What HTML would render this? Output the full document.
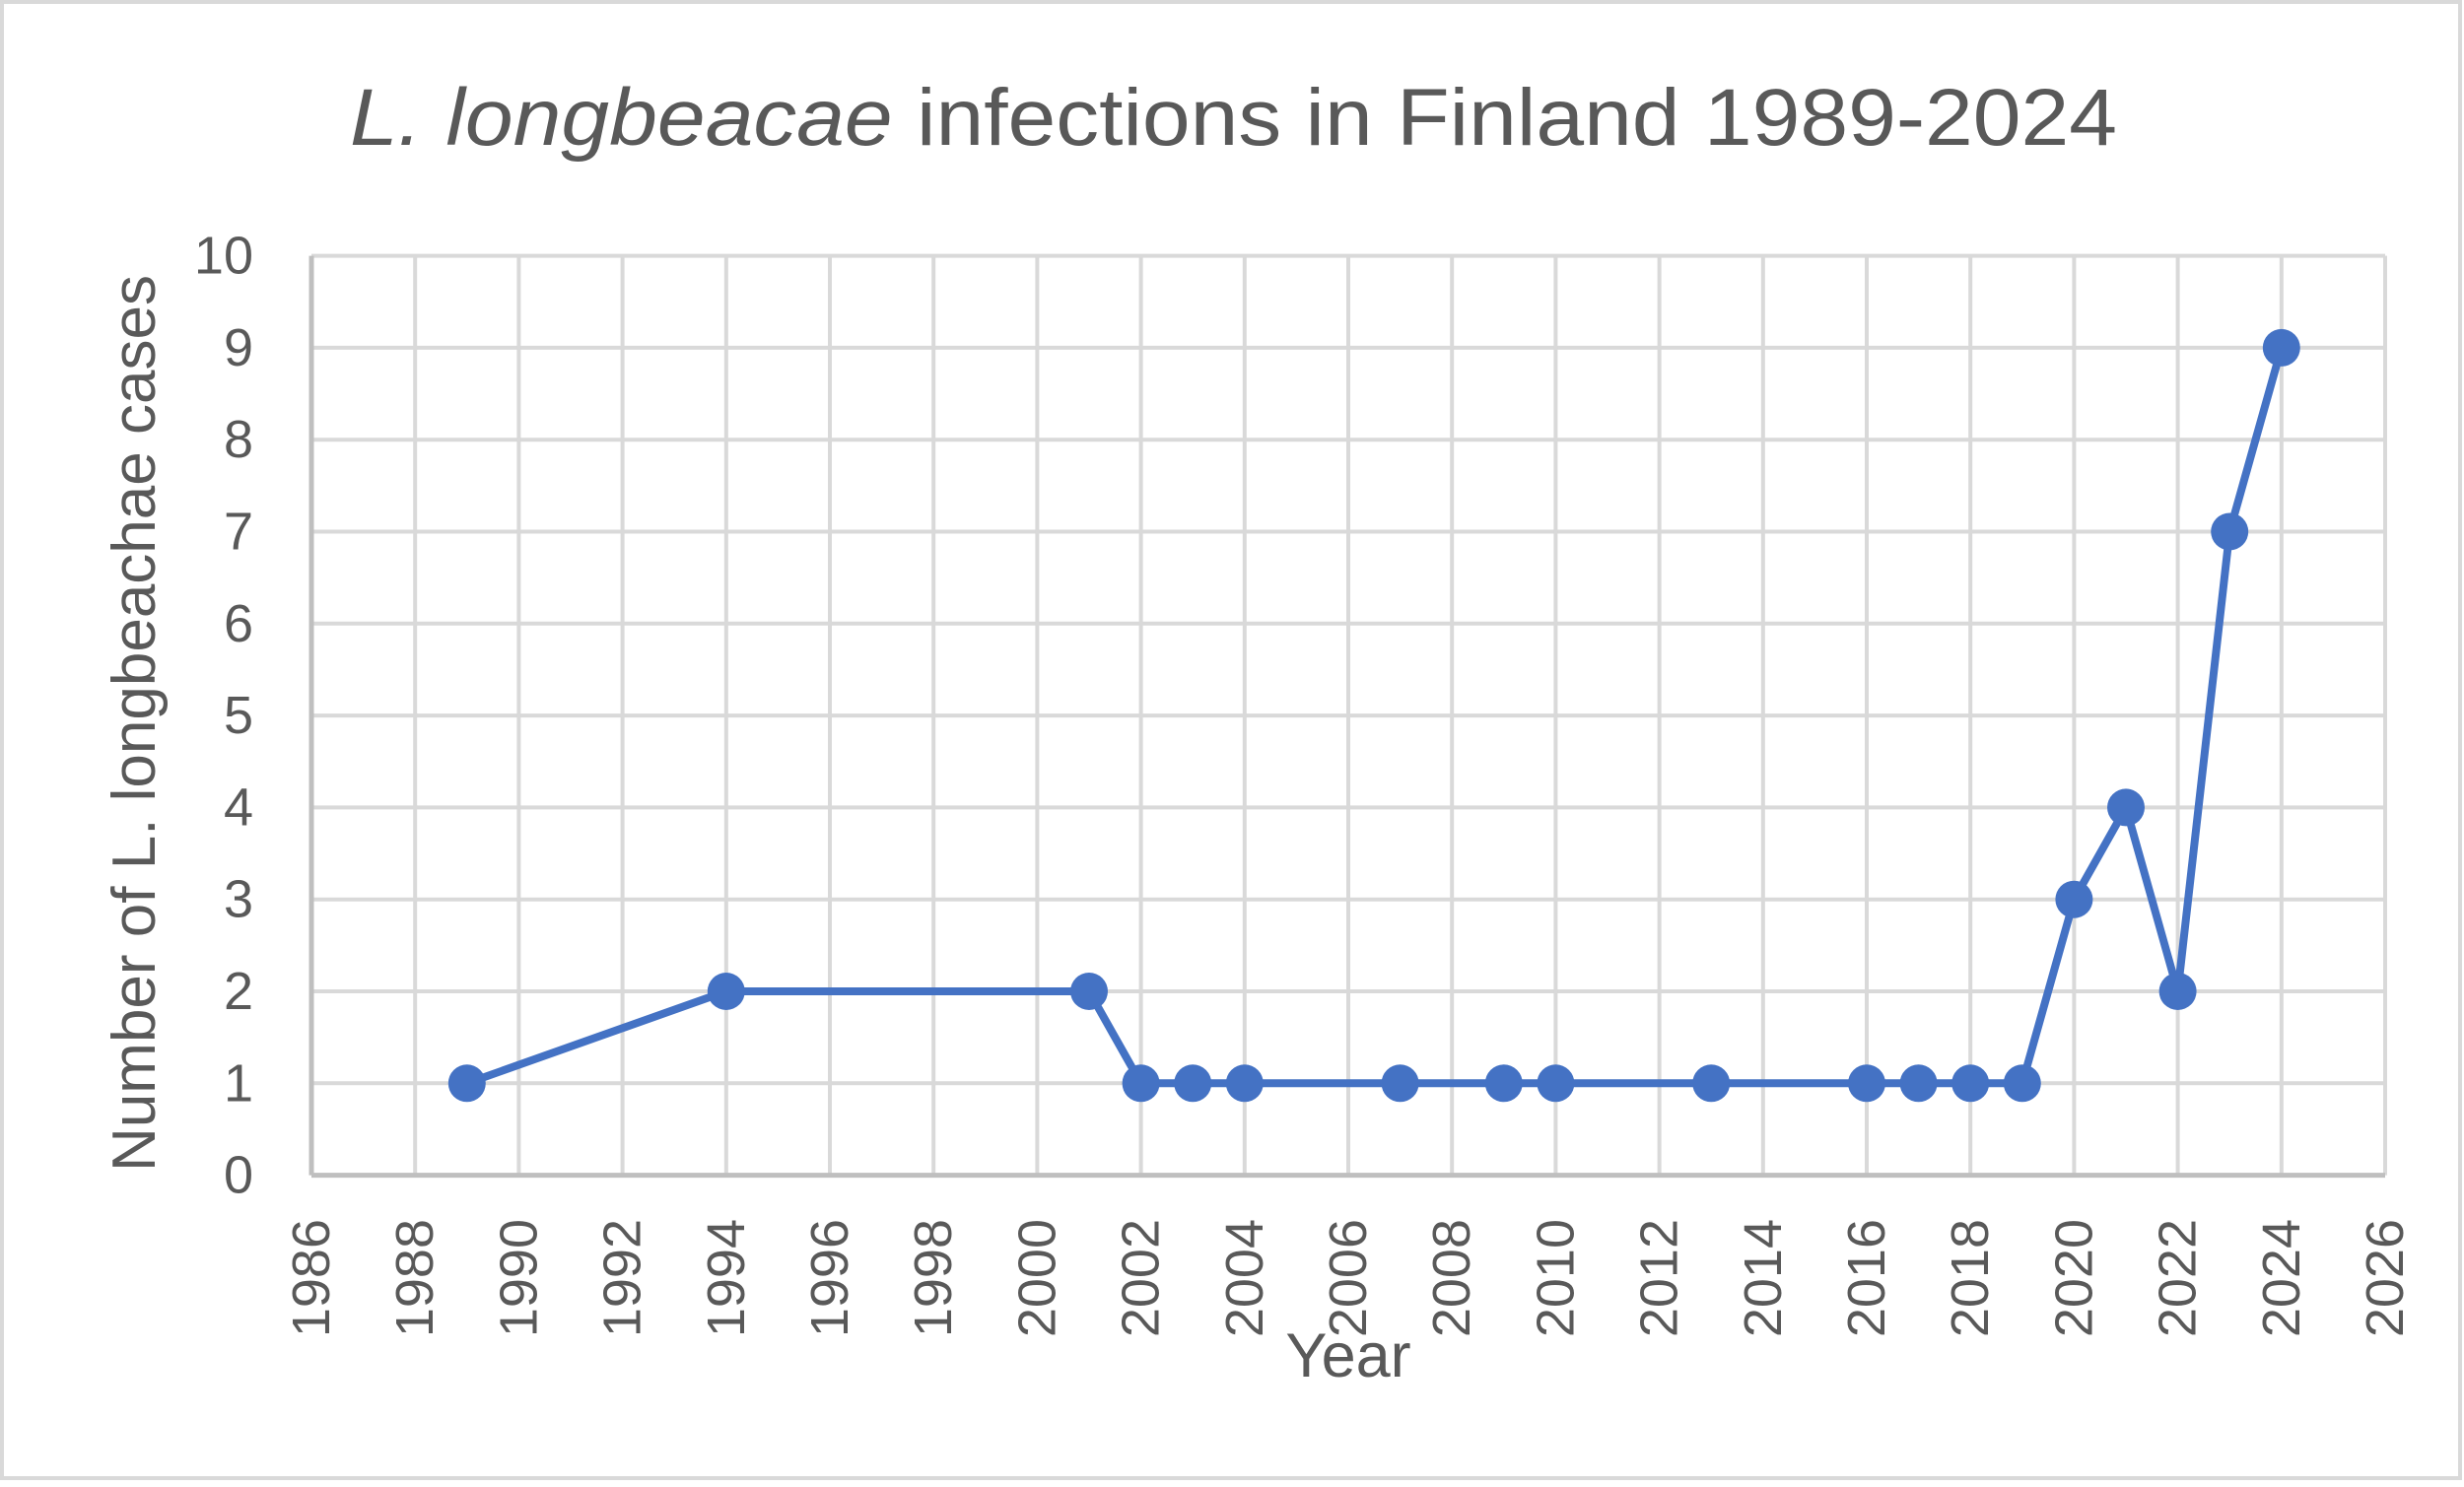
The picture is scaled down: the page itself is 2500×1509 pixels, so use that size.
<!DOCTYPE html>
<html><head><meta charset="utf-8"><style>html,body{margin:0;padding:0;background:#fff}</style></head>
<body>
<svg width="2500" height="1504" xmlns="http://www.w3.org/2000/svg" font-family="Liberation Sans, sans-serif" fill="#595959">
<rect x="2" y="2" width="2494" height="1498" fill="#fff" stroke="#d9d9d9" stroke-width="4"/>
<text x="355" y="147" font-size="82" textLength="1793" lengthAdjust="spacingAndGlyphs"><tspan font-style="italic">L. longbeacae</tspan> infections in Finland 1989-2024</text>
<g stroke="#d9d9d9" stroke-width="4">
<line x1="316" y1="259.6" x2="2420" y2="259.6"/><line x1="316" y1="352.9" x2="2420" y2="352.9"/><line x1="316" y1="446.2" x2="2420" y2="446.2"/><line x1="316" y1="539.5" x2="2420" y2="539.5"/><line x1="316" y1="632.8" x2="2420" y2="632.8"/><line x1="316" y1="726.1" x2="2420" y2="726.1"/><line x1="316" y1="819.4" x2="2420" y2="819.4"/><line x1="316" y1="912.7" x2="2420" y2="912.7"/><line x1="316" y1="1006" x2="2420" y2="1006"/><line x1="316" y1="1099.3" x2="2420" y2="1099.3"/>
<line x1="421.2" y1="259.6" x2="421.2" y2="1192.6"/><line x1="526.4" y1="259.6" x2="526.4" y2="1192.6"/><line x1="631.6" y1="259.6" x2="631.6" y2="1192.6"/><line x1="736.8" y1="259.6" x2="736.8" y2="1192.6"/><line x1="842" y1="259.6" x2="842" y2="1192.6"/><line x1="947.2" y1="259.6" x2="947.2" y2="1192.6"/><line x1="1052.4" y1="259.6" x2="1052.4" y2="1192.6"/><line x1="1157.6" y1="259.6" x2="1157.6" y2="1192.6"/><line x1="1262.8" y1="259.6" x2="1262.8" y2="1192.6"/><line x1="1368" y1="259.6" x2="1368" y2="1192.6"/><line x1="1473.2" y1="259.6" x2="1473.2" y2="1192.6"/><line x1="1578.4" y1="259.6" x2="1578.4" y2="1192.6"/><line x1="1683.6" y1="259.6" x2="1683.6" y2="1192.6"/><line x1="1788.8" y1="259.6" x2="1788.8" y2="1192.6"/><line x1="1894" y1="259.6" x2="1894" y2="1192.6"/><line x1="1999.2" y1="259.6" x2="1999.2" y2="1192.6"/><line x1="2104.4" y1="259.6" x2="2104.4" y2="1192.6"/><line x1="2209.6" y1="259.6" x2="2209.6" y2="1192.6"/><line x1="2420" y1="259.6" x2="2420" y2="1192.6"/><line x1="2314.8" y1="259.6" x2="2314.8" y2="1192.6"/>
</g>
<g stroke="#bfbfbf" stroke-width="5"><line x1="316" y1="259.6" x2="316" y2="1192.6"/><line x1="316" y1="1192.6" x2="2420" y2="1192.6"/></g>
<g font-size="54" text-anchor="end" dominant-baseline="central">
<text x="257" y="259.6">10</text><text x="257" y="352.9">9</text><text x="257" y="446.2">8</text><text x="257" y="539.5">7</text><text x="257" y="632.8">6</text><text x="257" y="726.1">5</text><text x="257" y="819.4">4</text><text x="257" y="912.7">3</text><text x="257" y="1006">2</text><text x="257" y="1099.3">1</text><text x="257" y="1192.6">0</text>
</g>
<g font-size="54" text-anchor="end" dominant-baseline="central">
<text transform="translate(316,1237) rotate(-90)">1986</text><text transform="translate(421.2,1237) rotate(-90)">1988</text><text transform="translate(526.4,1237) rotate(-90)">1990</text><text transform="translate(631.6,1237) rotate(-90)">1992</text><text transform="translate(736.8,1237) rotate(-90)">1994</text><text transform="translate(842,1237) rotate(-90)">1996</text><text transform="translate(947.2,1237) rotate(-90)">1998</text><text transform="translate(1052.4,1237) rotate(-90)">2000</text><text transform="translate(1157.6,1237) rotate(-90)">2002</text><text transform="translate(1262.8,1237) rotate(-90)">2004</text><text transform="translate(1368,1237) rotate(-90)">2006</text><text transform="translate(1473.2,1237) rotate(-90)">2008</text><text transform="translate(1578.4,1237) rotate(-90)">2010</text><text transform="translate(1683.6,1237) rotate(-90)">2012</text><text transform="translate(1788.8,1237) rotate(-90)">2014</text><text transform="translate(1894,1237) rotate(-90)">2016</text><text transform="translate(1999.2,1237) rotate(-90)">2018</text><text transform="translate(2104.4,1237) rotate(-90)">2020</text><text transform="translate(2209.6,1237) rotate(-90)">2022</text><text transform="translate(2314.8,1237) rotate(-90)">2024</text><text transform="translate(2420,1237) rotate(-90)">2026</text>
</g>
<text x="1368" y="1397" font-size="63" text-anchor="middle">Year</text>
<text transform="translate(157,734) rotate(-90)" font-size="62" text-anchor="middle">Number of L. longbeachae cases</text>
<polyline fill="none" stroke="#4472C4" stroke-width="8" stroke-linejoin="round" points="473.8,1099.3 736.8,1006 1105,1006 1157.6,1099.3 1210.2,1099.3 1262.8,1099.3 1420.6,1099.3 1525.8,1099.3 1578.4,1099.3 1736.2,1099.3 1894,1099.3 1946.6,1099.3 1999.2,1099.3 2051.8,1099.3 2104.4,912.7 2157,819.4 2209.6,1006 2262.2,539.5 2314.8,352.9"/>
<g fill="#4472C4">
<circle cx="473.8" cy="1099.3" r="19"/><circle cx="736.8" cy="1006" r="19"/><circle cx="1105" cy="1006" r="19"/><circle cx="1157.6" cy="1099.3" r="19"/><circle cx="1210.2" cy="1099.3" r="19"/><circle cx="1262.8" cy="1099.3" r="19"/><circle cx="1420.6" cy="1099.3" r="19"/><circle cx="1525.8" cy="1099.3" r="19"/><circle cx="1578.4" cy="1099.3" r="19"/><circle cx="1736.2" cy="1099.3" r="19"/><circle cx="1894" cy="1099.3" r="19"/><circle cx="1946.6" cy="1099.3" r="19"/><circle cx="1999.2" cy="1099.3" r="19"/><circle cx="2051.8" cy="1099.3" r="19"/><circle cx="2104.4" cy="912.7" r="19"/><circle cx="2157" cy="819.4" r="19"/><circle cx="2209.6" cy="1006" r="19"/><circle cx="2262.2" cy="539.5" r="19"/><circle cx="2314.8" cy="352.9" r="19"/>
</g>
</svg>
</body></html>
